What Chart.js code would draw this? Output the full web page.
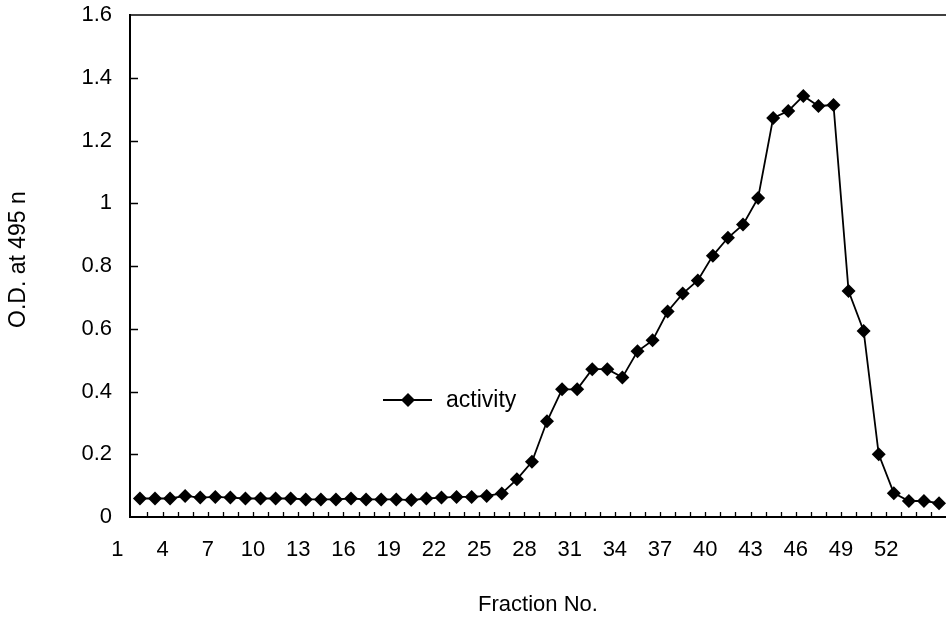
<!DOCTYPE html>
<html>
<head>
<meta charset="utf-8">
<script src="https://cdn.jsdelivr.net/npm/chart.js@4.4.1/dist/chart.umd.min.js"></script>
<style>
  html, body { margin: 0; padding: 0; overflow: hidden; background: #fff; }
  canvas { display: block; }
</style>
</head>
<body>
<canvas id="odChart" width="1076" height="618"></canvas>
<script>
// fraction positions (points sit between the numbered ticks)
const fractions = [
  2.5, 3.5, 4.5, 5.5, 6.5, 7.5, 8.5, 9.5, 10.5, 11.5,
  12.5, 13.5, 14.5, 15.5, 16.5, 17.5, 18.5, 19.5, 20.5, 21.5,
  22.5, 23.5, 24.5, 25.5, 26.5, 27.5, 28.5, 29.5, 30.5, 31.5,
  32.5, 33.5, 34.5, 35.5, 36.5, 37.5, 38.5, 39.5, 40.5, 41.5,
  42.5, 43.5, 44.5, 45.5, 46.5, 47.5, 48.5, 49.5, 50.5, 51.5,
  52.5, 53.5, 54.5, 55.5,
]
const activity = [
  0.059, 0.059, 0.059, 0.067, 0.062, 0.064, 0.062, 0.059, 0.059, 0.059,
  0.059, 0.056, 0.056, 0.056, 0.059, 0.056, 0.056, 0.056, 0.054, 0.059,
  0.062, 0.064, 0.064, 0.067, 0.075, 0.12, 0.176, 0.305, 0.407, 0.407,
  0.471, 0.471, 0.445, 0.528, 0.563, 0.655, 0.712, 0.754, 0.833, 0.89,
  0.932, 1.017, 1.272, 1.294, 1.342, 1.31, 1.313, 0.72, 0.593, 0.2,
  0.076, 0.051, 0.051, 0.044,
]
const xLabels = [1, 4, 7, 10, 13, 16, 19, 22, 25, 28, 31, 34, 37, 40, 43, 46, 49, 52]

const FONT = 'Arial, "Liberation Sans", sans-serif'

// inner tick marks, top frame line, x labels and the floating legend
const frame = {
  id: 'frame',
  beforeDatasetsDraw(chart) {
    const { ctx, chartArea: a, scales: { x, y } } = chart
    ctx.save()
    ctx.strokeStyle = '#000'
    ctx.lineWidth = 1.6
    ctx.beginPath()
    ctx.moveTo(a.left, a.top)
    ctx.lineTo(a.right, a.top)
    ctx.stroke()

    ctx.lineWidth = 1.3
    ctx.beginPath()
    for (let v = 3; v <= Math.floor(x.max); v++) {
      const px = Math.round(x.getPixelForValue(v)) + 0.5
      ctx.moveTo(px, a.bottom)
      ctx.lineTo(px, a.bottom - 5)
    }
    y.ticks.forEach((t) => {
      if (t.value <= 0 || t.value >= y.max) return
      const py = Math.round(y.getPixelForValue(t.value)) + 0.5
      ctx.moveTo(a.left, py)
      ctx.lineTo(a.left + 8, py)
    })
    ctx.stroke()
    ctx.restore()
  },
  afterDraw(chart) {
    const { ctx, chartArea: a, scales: { x } } = chart
    ctx.save()
    ctx.fillStyle = '#000'
    ctx.font = '22px ' + FONT
    ctx.textAlign = 'center'
    ctx.textBaseline = 'middle'
    xLabels.forEach((n) => ctx.fillText(String(n), x.getPixelForValue(n), a.bottom + 33))

    // legend
    const ds = chart.data.datasets[0]
    const lx = 383, ly = 400
    ctx.strokeStyle = ds.borderColor
    ctx.lineWidth = ds.borderWidth
    ctx.beginPath()
    ctx.moveTo(lx, ly)
    ctx.lineTo(lx + 49, ly)
    ctx.stroke()
    ctx.beginPath()
    const r = ds.pointRadius
    ctx.moveTo(lx + 25 - r, ly)
    ctx.lineTo(lx + 25, ly - r)
    ctx.lineTo(lx + 25 + r, ly)
    ctx.lineTo(lx + 25, ly + r)
    ctx.closePath()
    ctx.fillStyle = ds.pointBackgroundColor
    ctx.fill()
    ctx.fillStyle = '#000'
    ctx.textAlign = 'left'
    ctx.font = '23px ' + FONT
    ctx.fillText(ds.label, lx + 63, ly + 1)
    ctx.restore()
  },
}

const ctx = document.getElementById('odChart').getContext('2d')
new Chart(ctx, {
  type: 'line',
  data: {
    datasets: [
      {
        label: 'activity',
        data: fractions.map((f, i) => ({ x: f, y: activity[i] })),
        borderColor: '#000',
        borderWidth: 1.8,
        pointStyle: 'rectRot',
        pointRadius: 7,
        pointBackgroundColor: '#000',
        pointBorderColor: '#000',
        pointBorderWidth: 0,
        tension: 0,
      },
    ],
  },
  options: {
    responsive: false,
    animation: false,
    devicePixelRatio: 1,
    layout: { padding: { top: 15, left: 0, right: 0, bottom: 0 } },
    plugins: {
      legend: { display: false },
      tooltip: { enabled: false },
      title: {
        display: true,
        position: 'bottom',
        text: 'Fraction No.',
        color: '#000',
        font: { family: FONT, size: 22, weight: 'normal' },
        padding: { top: 0, bottom: 0 },
      },
    },
    scales: {
      x: {
        type: 'linear',
        min: 1.842,
        max: 64.12,
        grid: { display: false, drawTicks: false },
        border: { display: true, color: '#000', width: 2 },
        ticks: { display: false },
        afterFit: (scale) => {
          scale.height = 74.6
        },
      },
      y: {
        min: 0,
        max: 1.6,
        grid: { display: false, drawTicks: false },
        border: { display: true, color: '#000', width: 2 },
        ticks: {
          stepSize: 0.2,
          padding: 18,
          color: '#000',
          font: { family: FONT, size: 22 },
          callback: (v) => String(+v.toFixed(1)),
        },
        title: {
          display: true,
          text: '  O.D. at 495 n',
          color: '#000',
          font: { family: FONT, size: 23 },
          padding: { top: 5, bottom: 0 },
        },
        afterFit: (scale) => {
          scale.width = 130
          // tick padding would otherwise push the plot top down
          scale.paddingTop = 0
          scale.paddingBottom = 0
        },
      },
    },
  },
  plugins: [frame],
})
</script>
</body>
</html>
